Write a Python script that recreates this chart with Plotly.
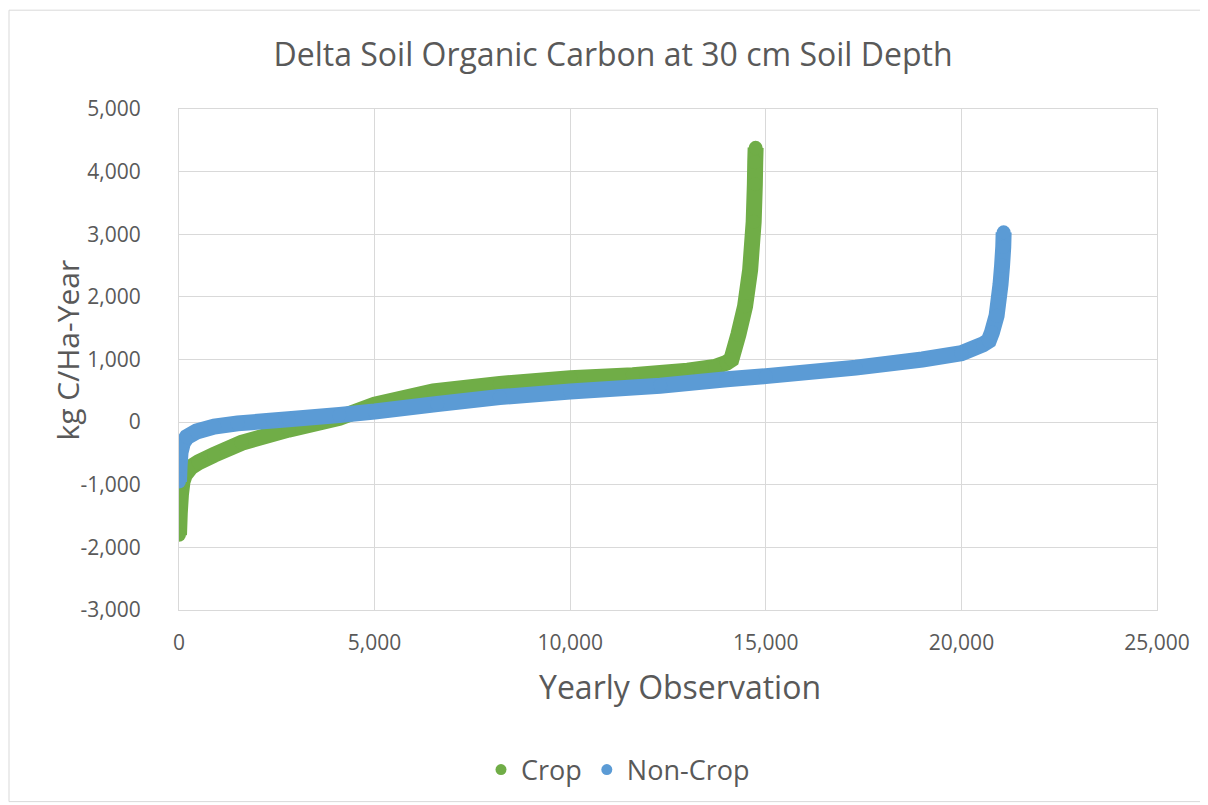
import plotly.graph_objects as go

# ---- data ----
crop_x = [0, 20, 50, 90, 150, 300, 500, 900, 1600, 2800, 4100, 5000, 6500, 8200,
          10000, 11600, 13000, 13700, 14000, 14120, 14300, 14470, 14600, 14690,
          14720, 14730, 14740]
crop_y = [-1800, -1450, -1150, -950, -840, -720, -640, -520, -330, -120, 70, 280,
          490, 610, 700, 750, 820, 880, 950, 1000, 1400, 1850, 2430, 3200,
          3800, 4150, 4380]

noncrop_x = [0, 15, 40, 100, 200, 450, 900, 1500, 2400, 2800, 4100, 5000, 6600,
             8200, 10000, 12300, 14000, 15000, 17300, 19000, 20000, 20550, 20700,
             20780, 20900, 21000, 21040, 21070, 21080]
noncrop_y = [-950, -700, -480, -330, -240, -150, -70, -20, 25, 45, 115, 170, 290,
             400, 490, 580, 685, 735, 870, 1000, 1100, 1240, 1300, 1430, 1700,
             2200, 2500, 2800, 3030]

x_ticks = [0, 5000, 10000, 15000, 20000, 25000]
x_tick_labels = ["0", "5,000", "10,000", "15,000", "20,000", "25,000"]
y_ticks = [-3000, -2000, -1000, 0, 1000, 2000, 3000, 4000, 5000]
y_tick_labels = ["-3,000", "-2,000", "-1,000", "0", "1,000", "2,000", "3,000",
                 "4,000", "5,000"]

GREEN = "#70AD47"
BLUE = "#5B9BD5"
TEXT = "#595959"
GRID = "#D9D9D9"
FONT = "Open Sans"

# page body has an 8px margin; figure is drawn from (8, 8)
OFF = 8
W, H = 1208 - OFF, 805 - OFF
# plot-area pixel geometry in page coordinates
L, R, T, B = 179, 1157, 109, 611


def px(xp):
    return (xp - L) / (R - L)


def py(yp):
    return (B - yp) / (B - T)


fig = go.Figure()
for name, xs, ys, col in [("Crop", crop_x, crop_y, GREEN),
                          ("Non-Crop", noncrop_x, noncrop_y, BLUE)]:
    fig.add_trace(go.Scatter(
        x=xs, y=ys, mode="lines+markers", name=name, showlegend=False,
        line=dict(color=col, width=16, simplify=False),
        marker=dict(color=col, size=14, line=dict(width=0)),
        hoverinfo="x+y"))
    fig.add_trace(go.Scatter(
        x=[None], y=[None], mode="markers", name=name, showlegend=True,
        marker=dict(color=col, size=11)))

fig.update_layout(
    width=W, height=H,
    margin=dict(l=L - OFF, r=1208 - R, t=T - OFF, b=805 - B, pad=0),
    paper_bgcolor="white", plot_bgcolor="white",
    font=dict(family=FONT, color=TEXT),
    title=dict(text="Delta Soil Organic Carbon at 30 cm Soil Depth",
               x=(613 - OFF) / W, xanchor="center", y=1 - (55 - OFF) / H,
               yanchor="middle", yref="container",
               font=dict(size=32, color=TEXT, family=FONT)),
    xaxis=dict(range=[0, 25000], tickvals=x_ticks, ticktext=x_tick_labels,
               showgrid=True, gridcolor=GRID, gridwidth=1, zeroline=False,
               showline=True, mirror=True, linecolor=GRID, linewidth=1,
               ticks="", ticklabelstandoff=14,
               tickfont=dict(size=21, color=TEXT, family=FONT)),
    yaxis=dict(range=[-3000, 5000], tickvals=y_ticks, ticktext=y_tick_labels,
               showgrid=True, gridcolor=GRID, gridwidth=1, zeroline=False,
               showline=True, mirror=True, linecolor=GRID, linewidth=1,
               ticks="", ticklabelstandoff=33,
               tickfont=dict(size=21, color=TEXT, family=FONT)),
    legend=dict(orientation="h", x=px(618), xanchor="center", y=py(770),
                yanchor="middle", font=dict(size=27, color=TEXT, family=FONT),
                bgcolor="rgba(0,0,0,0)"),
    annotations=[
        dict(text="Yearly Observation", xref="paper", yref="paper",
             x=px(680), y=py(688), xanchor="center", yanchor="middle",
             showarrow=False, font=dict(size=32, color=TEXT, family=FONT)),
        dict(text="kg C/Ha-Year", xref="paper", yref="paper",
             x=px(68), y=py(351), xanchor="center", yanchor="middle",
             textangle=-90, showarrow=False,
             font=dict(size=30, color=TEXT, family=FONT)),
    ],
    shapes=[dict(type="rect", xref="paper", yref="paper",
                 x0=px(9), x1=px(1215), y0=py(803), y1=py(10),
                 line=dict(color=GRID, width=1), layer="below")],
)

fig.write_html("out.html")
